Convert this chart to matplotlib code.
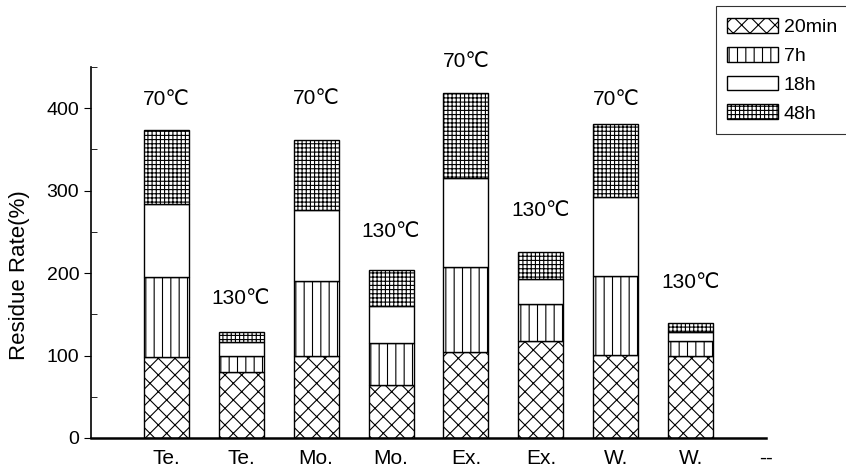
import numpy as np
import matplotlib
matplotlib.use('Agg')
import matplotlib.pyplot as plt
from matplotlib.ticker import MultipleLocator

plt.rcParams['font.family'] = ['Liberation Sans', 'DejaVu Sans']
plt.rcParams['hatch.linewidth'] = 0.8

categories = ['Te.', 'Te.', 'Mo.', 'Mo.', 'Ex.', 'Ex.', 'W.', 'W.']
temps = ['70℃', '130℃', '70℃', '130℃', '70℃', '130℃', '70℃', '130℃']
series = ['20min', '7h', '18h', '48h']
# cumulative tops, converted to segment heights
tops = np.array([
    [98, 80, 99, 64, 104, 118, 101, 99],       # 20min
    [195, 100, 190, 115, 208, 162, 197, 118],  # 7h
    [284, 116, 277, 160, 315, 193, 292, 129],  # 18h
    [373, 128, 362, 204, 419, 226, 381, 139],  # 48h
])
values = np.diff(np.vstack([np.zeros(8), tops]), axis=0)
label_y = [411, 169, 412, 251, 457, 276, 411, 189]
hatches = ['xx', '||', '', '++++']

fig = plt.figure(figsize=(8.46, 4.69), dpi=100)
ax = fig.add_axes([0.1076, 0.0661, 0.7978, 0.791])

x = np.arange(1, len(categories) + 1)
bottom = np.zeros(len(categories))
for name, vals, h in zip(series, values, hatches):
    ax.bar(x, vals, 0.6, bottom=bottom, color='white', edgecolor='black',
           linewidth=1.0, hatch=h, label=name)
    bottom += vals

for xi, t, yy in zip(x, temps, label_y):
    ax.text(xi, yy, t, ha='center', va='center', fontsize=15, clip_on=False)

ax.set_xlim(0, 9)
ax.set_ylim(0, 450)
ax.set_xticks(list(x) + [9])
ax.set_xticklabels(categories + ['--'], fontsize=15)
ax.tick_params(axis='x', length=0, pad=8)
ax.yaxis.set_minor_locator(MultipleLocator(50))
ax.set_yticks([0, 100, 200, 300, 400])
ax.tick_params(axis='y', which='major', direction='out', length=5, labelsize=14)
ax.tick_params(axis='y', which='minor', direction='in', length=4)
ax.set_ylabel('Residue Rate(%)', fontsize=16)
ax.yaxis.set_label_coords(-0.09, 0.44)
ax.spines['top'].set_visible(False)
ax.spines['right'].set_visible(False)
ax.spines['left'].set_linewidth(1.2)
ax.spines['bottom'].set_linewidth(1.8)

leg = fig.legend(loc='upper left', bbox_to_anchor=(0.846, 0.987), fontsize=14,
                 frameon=True, fancybox=False, edgecolor='black',
                 handlelength=2.6, handleheight=0.8, handletextpad=0.3,
                 labelspacing=0.55, borderpad=0.6, borderaxespad=0)
leg.get_frame().set_linewidth(0.8)

fig.savefig('out.png', dpi=100)
